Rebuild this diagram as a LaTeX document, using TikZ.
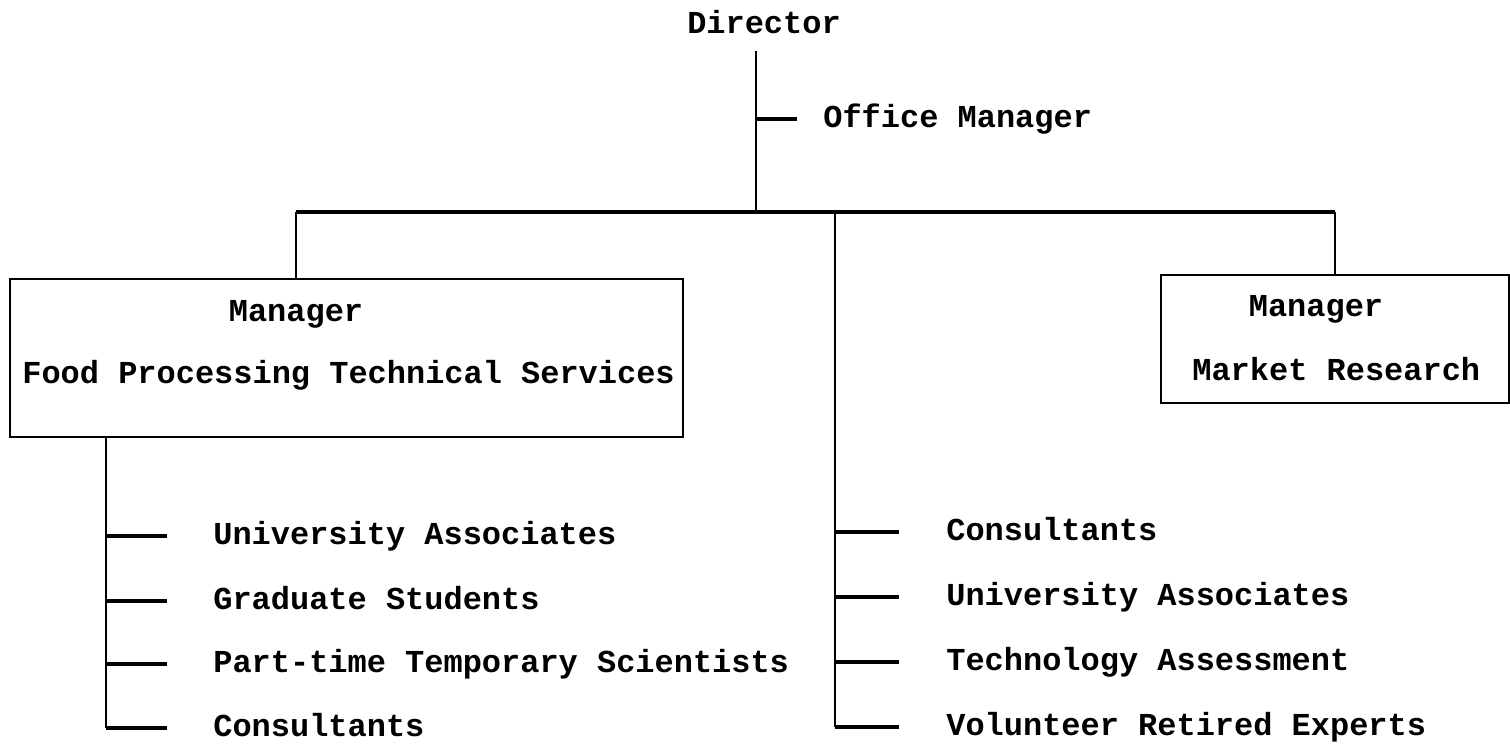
\documentclass[tikz,border=0pt]{standalone}
\usepackage{fontspec}
\setmonofont{Liberation Mono}
\usepackage{tikz}
\usetikzlibrary{calc,positioning}
\tikzset{%
	txt/.style  = {font=\ttfamily\bfseries\fontsize{18.2}{22}\selectfont, inner sep=0pt, text height=0.95em, text depth=0pt},
	unit/.style = {draw, rectangle, line width=1.5pt},
	line/.style = {line width=1.2pt},
	bus/.style  = {line width=1.8pt},
	tick/.style = {line width=2.2pt},
}

\begin{document}
\begin{tikzpicture}[x=0.02cm, y=-0.02cm]
	\useasboundingbox (0,0) rectangle (1510,751);

	% director and office
	\node[txt] (dir) at (764,25) {Director};
	\node[txt, anchor=west] (office) at (823,119) {Office Manager};
	\coordinate (bus) at (756,212);
	\coordinate (busL) at (296,212);
	\coordinate (busR) at (1335,212);
	\coordinate (mt) at (835,727);
	\draw[line, shorten <=0.34cm] (dir.south -| bus) -- (bus);
	\draw[tick, shorten >=0.52cm] (bus |- office.west) -- (office.west);
	\draw[bus] (busL) -- (busR);

	% the two managers
	\node[unit, minimum width=13.46cm, minimum height=3.16cm] (fpts) at (346.5,358) {};
	\node[txt] (fptsHead) at (296,313) {Manager};
	\node[txt, anchor=west] (fptsName) at (22,375) {Food Processing Technical Services};
	\node[unit, minimum width=6.96cm, minimum height=2.56cm] (mr) at (1335,339) {};
	\node[txt] (mrHead) at (1316,308) {Manager};
	\node[txt, anchor=west] (mrName) at (1192,372) {Market Research};
	\draw[line] (busL) -- (busL |- fpts.north);
	\draw[line] (busR) -- (busR |- mr.north);

	% staff under food processing
	\coordinate (lt) at (106,728);
	\node[txt, anchor=west] (lua) at (213,536) {University Associates};
	\node[txt, anchor=west] (lgs) at (213,601) {Graduate Students};
	\node[txt, anchor=west] (lpt) at (213,664) {Part-time Temporary Scientists};
	\node[txt, anchor=west] (lcon) at (213,728) {Consultants};
	\draw[line] (lt |- fpts.south) -- (lt);
	\draw[tick, shorten >=0.92cm] (lt |- lua.west) -- (lua.west);
	\draw[tick, shorten >=0.92cm] (lt |- lgs.west) -- (lgs.west);
	\draw[tick, shorten >=0.92cm] (lt |- lpt.west) -- (lpt.west);
	\draw[tick, shorten >=0.92cm] (lt |- lcon.west) -- (lcon.west);

	% staff under the director
	\node[txt, anchor=west] (rcon) at (946,532) {Consultants};
	\node[txt, anchor=west] (rua) at (946,597) {University Associates};
	\node[txt, anchor=west] (rta) at (946,662) {Technology Assessment};
	\node[txt, anchor=west] (rvre) at (946,727) {Volunteer Retired Experts};
	\draw[line] (mt |- bus) -- (mt);
	\draw[tick, shorten >=0.94cm] (mt |- rcon.west) -- (rcon.west);
	\draw[tick, shorten >=0.94cm] (mt |- rua.west) -- (rua.west);
	\draw[tick, shorten >=0.94cm] (mt |- rta.west) -- (rta.west);
	\draw[tick, shorten >=0.94cm] (mt |- rvre.west) -- (rvre.west);
\end{tikzpicture}
\end{document}
